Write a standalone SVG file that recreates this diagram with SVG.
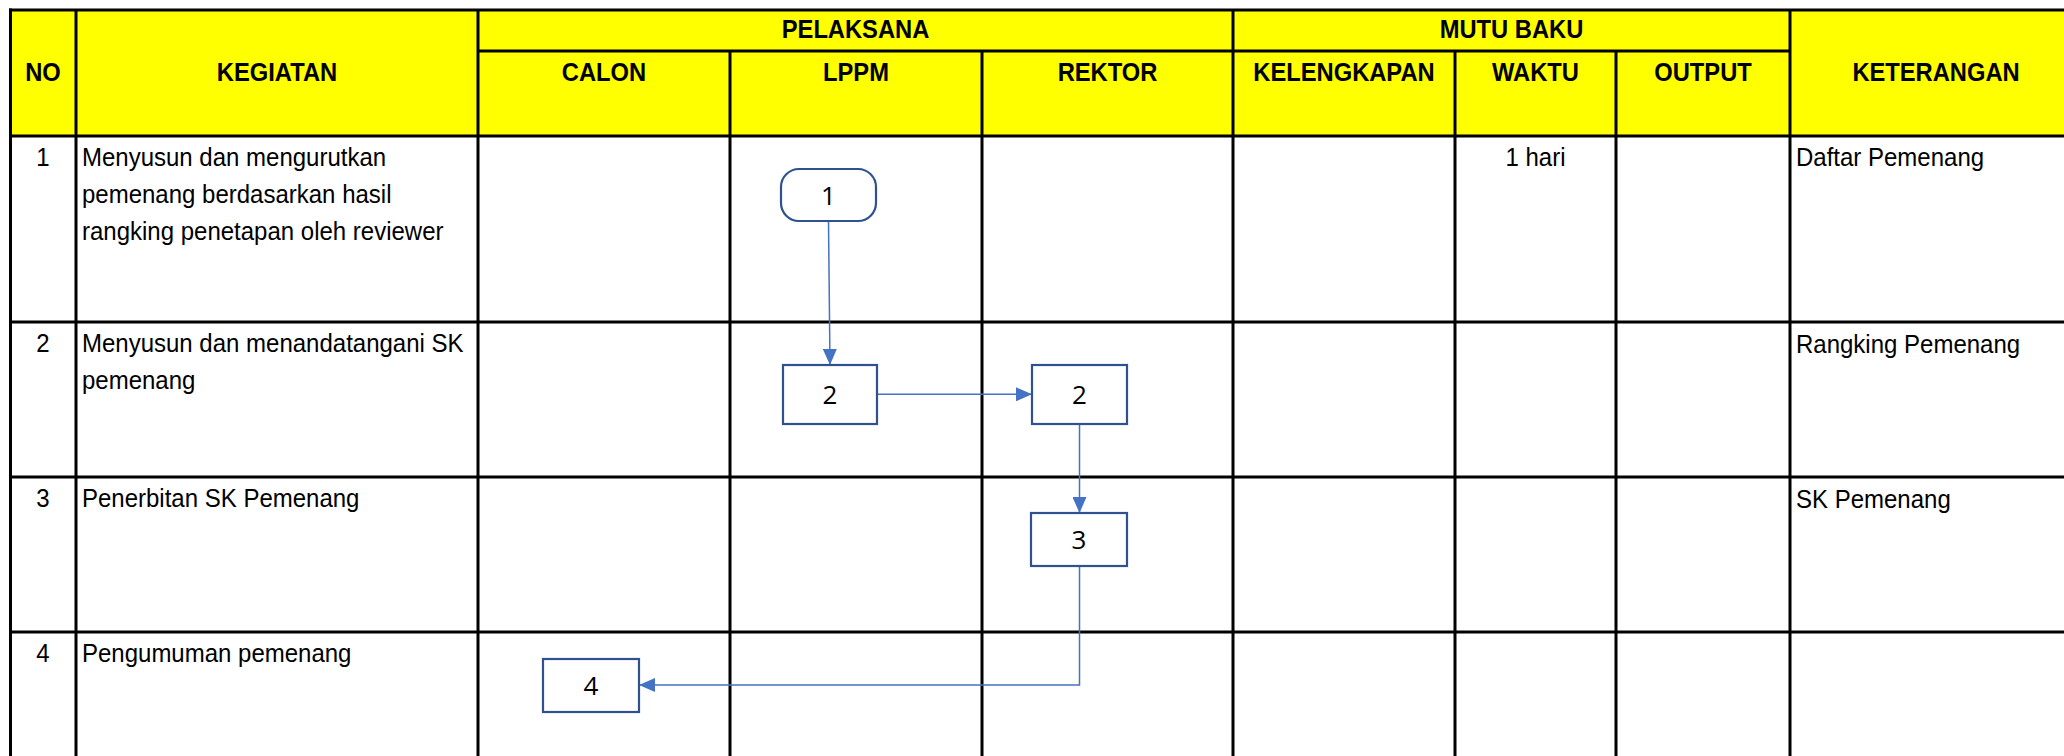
<svg xmlns="http://www.w3.org/2000/svg" width="2064" height="756" viewBox="0 0 2064 756">
  <style>
    .grid { stroke: #000; stroke-width: 3; fill: none; }
    .hdr { font-family: "Liberation Sans", Arial, sans-serif; font-weight: bold; font-size: 25.5px; fill: #000; text-anchor: middle; }
    .txt { font-family: "Liberation Sans", Arial, sans-serif; font-size: 25px; fill: #000; }
    .ctr { text-anchor: middle; }
    .box { fill: #fff; stroke: #2F528F; stroke-width: 2.2; }
    .num { font-family: "Open Sans", "Liberation Sans", sans-serif; font-size: 26px; fill: #000; text-anchor: middle; }
    .conn { fill: none; stroke: #4472C4; stroke-width: 1.5; }
  </style>
  <defs>
    <marker id="arrow" viewBox="0 0 16 14" markerWidth="16" markerHeight="14" refX="16" refY="7" orient="auto" markerUnits="userSpaceOnUse">
      <path d="M0,0 L16,7 L0,14 z" fill="#4472C4"/>
    </marker>
  </defs>

  <rect x="0" y="0" width="2064" height="756" fill="#fff"/>

  <g id="table">
    <rect x="10.5" y="10" width="2080" height="126" fill="#FFFF00"/>
    <g class="grid">
      <line x1="9" y1="10" x2="2090" y2="10"/>
      <line x1="478" y1="51" x2="1790" y2="51"/>
      <line x1="9" y1="136" x2="2090" y2="136"/>
      <line x1="9" y1="322" x2="2090" y2="322"/>
      <line x1="9" y1="477" x2="2090" y2="477"/>
      <line x1="9" y1="632" x2="2090" y2="632"/>
      <line x1="10.5" y1="8.5" x2="10.5" y2="770"/>
      <line x1="76" y1="10" x2="76" y2="770"/>
      <line x1="478" y1="10" x2="478" y2="770"/>
      <line x1="730" y1="51" x2="730" y2="770"/>
      <line x1="982" y1="51" x2="982" y2="770"/>
      <line x1="1233" y1="10" x2="1233" y2="770"/>
      <line x1="1455" y1="51" x2="1455" y2="770"/>
      <line x1="1616" y1="51" x2="1616" y2="770"/>
      <line x1="1790" y1="10" x2="1790" y2="770"/>
      <line x1="2082" y1="10" x2="2082" y2="770"/>
    </g>
    <g id="header">
      <text class="hdr" transform="translate(43 81) scale(0.93 1)">NO</text>
      <text class="hdr" transform="translate(277 81) scale(0.93 1)">KEGIATAN</text>
      <text class="hdr" transform="translate(855.5 38) scale(0.93 1)">PELAKSANA</text>
      <text class="hdr" transform="translate(1511.5 38) scale(0.93 1)">MUTU BAKU</text>
      <text class="hdr" transform="translate(604 81) scale(0.93 1)">CALON</text>
      <text class="hdr" transform="translate(856 81) scale(0.93 1)">LPPM</text>
      <text class="hdr" transform="translate(1107.5 81) scale(0.93 1)">REKTOR</text>
      <text class="hdr" transform="translate(1344 81) scale(0.93 1)">KELENGKAPAN</text>
      <text class="hdr" transform="translate(1535.5 81) scale(0.93 1)">WAKTU</text>
      <text class="hdr" transform="translate(1703 81) scale(0.93 1)">OUTPUT</text>
      <text class="hdr" transform="translate(1936 81) scale(0.93 1)">KETERANGAN</text>
    </g>
    <g id="row1">
      <text class="txt ctr" transform="translate(43 166) scale(0.96 1)">1</text>
      <text class="txt" transform="translate(82 166) scale(0.96 1)">Menyusun dan mengurutkan</text>
      <text class="txt" transform="translate(82 203) scale(0.96 1)">pemenang berdasarkan hasil</text>
      <text class="txt" transform="translate(82 240) scale(0.96 1)">rangking penetapan oleh reviewer</text>
      <text class="txt ctr" transform="translate(1535.5 166) scale(0.96 1)">1 hari</text>
      <text class="txt" transform="translate(1796 166) scale(0.96 1)">Daftar Pemenang</text>
    </g>
    <g id="row2">
      <text class="txt ctr" transform="translate(43 352) scale(0.96 1)">2</text>
      <text class="txt" transform="translate(82 352) scale(0.96 1)">Menyusun dan menandatangani SK</text>
      <text class="txt" transform="translate(82 389) scale(0.96 1)">pemenang</text>
      <text class="txt" transform="translate(1796 353) scale(0.96 1)">Rangking Pemenang</text>
    </g>
    <g id="row3">
      <text class="txt ctr" transform="translate(43 507) scale(0.96 1)">3</text>
      <text class="txt" transform="translate(82 507) scale(0.96 1)">Penerbitan SK Pemenang</text>
      <text class="txt" transform="translate(1796 508) scale(0.96 1)">SK Pemenang</text>
    </g>
    <g id="row4">
      <text class="txt ctr" transform="translate(43 662) scale(0.96 1)">4</text>
      <text class="txt" transform="translate(82 662) scale(0.96 1)">Pengumuman pemenang</text>
    </g>
  </g>

  <g id="connectors">
    <path class="conn" d="M828.5,221 L830,365" marker-end="url(#arrow)"/>
    <path class="conn" d="M877,394.3 L1032,394.3" marker-end="url(#arrow)"/>
    <path class="conn" d="M1079.5,424 L1079.5,513" marker-end="url(#arrow)"/>
    <path class="conn" d="M1079.5,566 L1079.5,685 L639,685" marker-end="url(#arrow)"/>
  </g>

  <g id="node1">
    <rect class="box" x="781" y="169" width="95" height="52" rx="18" ry="18"/>
    <text class="num" x="828.5" y="205">1</text>
  </g>
  <g id="node2-lppm">
    <rect class="box" x="783" y="365" width="94" height="59"/>
    <text class="num" x="830" y="404">2</text>
  </g>
  <g id="node2-rektor">
    <rect class="box" x="1032" y="365" width="95" height="59"/>
    <text class="num" x="1079.5" y="404">2</text>
  </g>
  <g id="node3">
    <rect class="box" x="1031" y="513" width="96" height="53"/>
    <text class="num" x="1079" y="549">3</text>
  </g>
  <g id="node4">
    <rect class="box" x="543" y="659" width="96" height="53"/>
    <text class="num" x="591" y="695">4</text>
  </g>
</svg>
